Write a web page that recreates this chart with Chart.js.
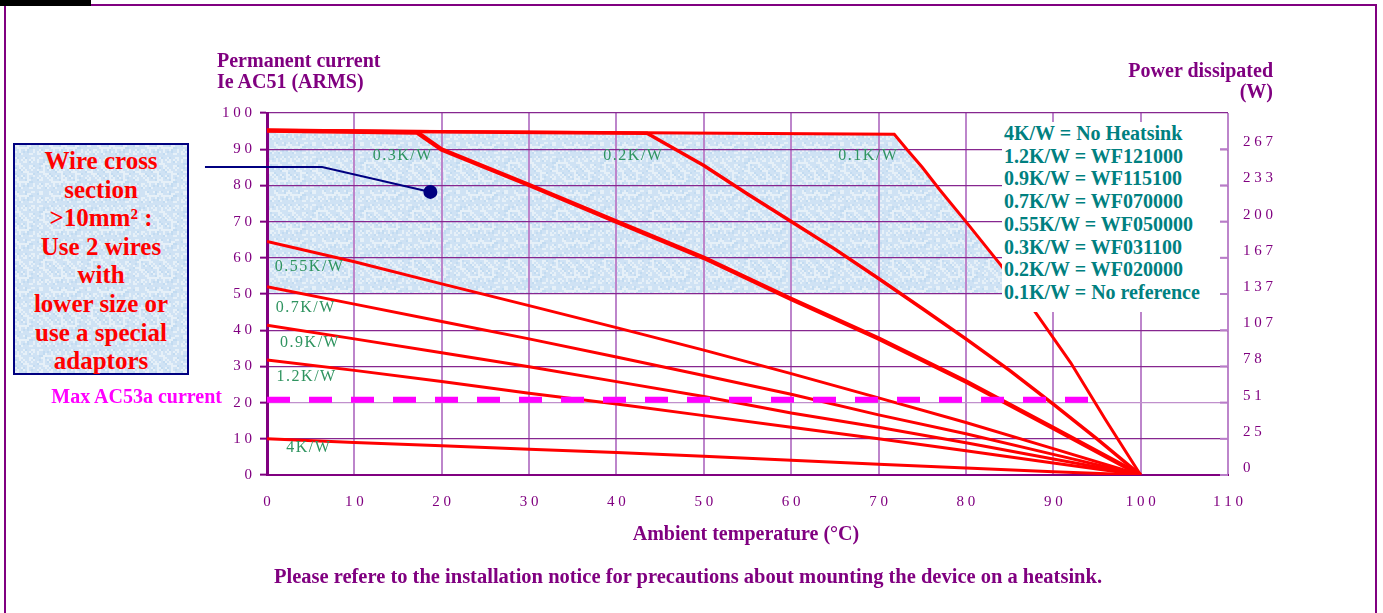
<!DOCTYPE html>
<html>
<head>
<meta charset="utf-8">
<script src="https://cdn.jsdelivr.net/npm/chart.js@4.4.0/dist/chart.umd.min.js"></script>
<style>
  body { margin: 0; background: #fff; width: 1383px; height: 613px; overflow: hidden; position: relative; font-family: "Liberation Serif", serif; }
  #c { position: absolute; left: 0; top: 0; }
  .t { position: absolute; font-weight: bold; color: #800080; font-size: 20px; line-height: 21px; white-space: nowrap; }
  #tab { position: absolute; left: 0; top: 0; width: 91px; height: 6px; background: #000; z-index: 2; }
  #frame { position: absolute; left: 4px; top: 4px; width: 1369px; height: 700px; border: 2px solid #800080; border-bottom: none; }
  #wire { position: absolute; left: 13px; top: 143px; width: 176px; height: 232px; box-sizing: border-box;
          border: 2px solid #000080; background-color: #d8e7f5; color: #ff0000; font-weight: bold; font-size: 25px;
          line-height: 28.6px; text-align: center; padding-top: 2px; }
  #legend { position: absolute; left: 1002px; top: 122px; width: 218px; height: 190px; box-sizing: border-box;
            background: #fff; color: #008080; font-weight: bold; font-size: 20px; line-height: 22.7px; padding-left: 2px; white-space: nowrap; }
</style>
</head>
<body>
<div id="frame"></div>
<div id="tab"></div>
<canvas id="c" width="1383" height="613"></canvas>

<div class="t" style="left:217px; top:50px;">Permanent current<br>Ie AC51 (ARMS)</div>
<div class="t" style="right:110px; top:60px; text-align:right;">Power dissipated<br>(W)</div>
<div class="t" style="left:546px; width:400px; top:523px; text-align:center; font-size:20px;">Ambient temperature (°C)</div>
<div class="t" style="left:188px; width:1000px; top:566px; text-align:center; font-size:20.5px;">Please refere to the installation notice for precautions about mounting the device on a heatsink.</div>
<div class="t" style="right:1161px; top:386px; color:#ff00ff;">Max AC53a current</div>
<div id="wire">Wire cross<br>section<br>&gt;10mm² :<br>Use 2 wires<br>with<br>lower size or<br>use a special<br>adaptors</div>
<div id="legend">4K/W = No Heatsink<br>1.2K/W = WF121000<br>0.9K/W = WF115100<br>0.7K/W = WF070000<br>0.55K/W = WF050000<br>0.3K/W = WF031100<br>0.2K/W = WF020000<br>0.1K/W = No reference</div>

<script>
// ambient temperature (°C) and permanent current (A)
const temps = [0, 10, 20, 30, 40, 50, 60, 70, 80, 90, 100];
const cur4 = [10, 9.0, 8.1, 7.1, 6.2, 5.2, 4.1, 3.0, 1.9, 0.9, 0];
const cur12 = [31.8, 28.9, 25.8, 22.6, 19.6, 16.4, 13.2, 10.0, 6.7, 3.3, 0];
const cur09 = [41.4, 37.6, 33.8, 29.9, 25.8, 21.7, 17.1, 13.2, 8.9, 4.4, 0];
const cur07 = [52.0, 47.2, 42.4, 37.6, 32.6, 27.5, 22.3, 16.6, 11.4, 5.7, 0];
const cur055 = [64.5, 58.9, 52.8, 46.8, 40.7, 34.5, 28.0, 21.3, 14.5, 7.3, 0];

const temps03 = [0, 17.2, 20, 30, 40, 50, 60, 70, 80, 90, 100];
const cur03 = [95.2, 94.6, 89.9, 80.1, 70.0, 60.0, 48.6, 37.7, 25.8, 13.0, 0];

const temps02 = [0, 43.5, 50, 55, 60, 65, 70, 75, 80, 85, 90, 95, 100];
const cur02 = [95.2, 94.4, 85.5, 77.6, 70.0, 62.4, 54.3, 46.0, 37.6, 28.9, 19.6, 10.0, 0];

const temps01 = [0, 71.8, 73.3, 75, 77, 80, 84, 88, 92, 96, 100];
const cur01 = [95.2, 94.1, 89.8, 85.0, 78.8, 70.0, 58.0, 44.8, 31.0, 15.2, 0];

// shaded zone: under the 0.1K/W curve, above 50 A
const shadeT = [0, 71.8, 73.3, 75, 77, 80, 84, 86.3];
const shadeI = [95.2, 94.1, 89.8, 85.0, 78.8, 70.0, 58.0, 50.0];

const ac53T = [0, 94.5];
const ac53I = [20.8, 20.8];

// right axis: power dissipated (W) at 0,10,...,90 A
const powerLabels = ['0', '25', '51', '78', '107', '137', '167', '200', '233', '267', ''];

const curveNames = ['0.3K/W', '0.2K/W', '0.1K/W', '0.55K/W', '0.7K/W', '0.9K/W', '1.2K/W', '4K/W'];
const nameT = [12.1, 38.5, 65.4, 0.9, 1.0, 1.5, 1.1, 2.2];
const nameI = [88.1, 88.1, 88.1, 57.5, 46.2, 36.4, 27.0, 7.4];

const calloutT = [-7.1, 6.3, 18.7];
const calloutI = [85.1, 85.1, 78.2];

const pts = (xs, ys) => xs.map((v, i) => ({x: v, y: ys[i]}));

function curve(label, xs, ys, w) {
    return { label: label, data: pts(xs, ys), borderColor: '#ff0000', borderWidth: w,
             pointRadius: 0, fill: false, tension: 0, order: 1 };
}

const spaced = v => String(v).split('').join(' ');

// paper-like light blue texture, fixed hash pattern
function paperTile() {
    const tile = document.createElement('canvas');
    tile.width = 48; tile.height = 48;
    const t = tile.getContext('2d');
    t.fillStyle = '#cfe2f4';
    t.fillRect(0, 0, 48, 48);
    for (let i = 0; i < 24; i++) {
        for (let j = 0; j < 24; j++) {
            const h = (i * 37 + j * 91 + i * j * 13) % 17;
            if (h < 6) { t.fillStyle = '#e6f0f8'; t.fillRect(i * 2, j * 2, 2, 2); }
            else if (h > 14) { t.fillStyle = '#c2dbf1'; t.fillRect(i * 2, j * 2, 2, 2); }
        }
    }
    return tile;
}
const tile = paperTile();
document.getElementById('wire').style.backgroundImage = 'url(' + tile.toDataURL() + ')';

const annotate = {
    id: 'annotate',
    afterDatasetsDraw(chart) {
        const {ctx, chartArea, scales: {x, y}} = chart;
        ctx.save();
        // callout to the shaded zone
        ctx.strokeStyle = '#000080';
        ctx.lineWidth = 2;
        ctx.beginPath();
        calloutT.forEach((t, i) => {
            const px = x.getPixelForValue(t), py = y.getPixelForValue(calloutI[i]);
            if (i == 0) ctx.moveTo(px, py); else ctx.lineTo(px, py);
        });
        ctx.stroke();
        const last = calloutT.length - 1;
        ctx.fillStyle = '#000080';
        ctx.beginPath();
        ctx.arc(x.getPixelForValue(calloutT[last]), y.getPixelForValue(calloutI[last]), 7, 0, 2 * Math.PI);
        ctx.fill();

        // curve names
        ctx.font = '16px "Liberation Serif"';
        ctx.fillStyle = '#2f9460';
        ctx.textBaseline = 'middle';
        ctx.textAlign = 'left';
        ctx.letterSpacing = '1.5px';
        curveNames.forEach((n, i) => {
            ctx.fillText(n, x.getPixelForValue(nameT[i]), y.getPixelForValue(nameI[i]));
        });
        ctx.letterSpacing = '0px';

        // small inner ticks of the power axis
        ctx.strokeStyle = '#b87cc8';
        ctx.lineWidth = 2;
        for (let v = 0; v <= 90; v += 10) {
            const py = y.getPixelForValue(v);
            ctx.beginPath();
            ctx.moveTo(chartArea.right - 8, py);
            ctx.lineTo(chartArea.right, py);
            ctx.stroke();
        }
        ctx.restore();
    }
};

const tickFont = { family: 'Liberation Serif', size: 15 };

const ctx = document.getElementById('c').getContext('2d');
new Chart(ctx, {
    type: 'line',
    data: {
        datasets: [
            { label: 'zone', data: pts(shadeT, shadeI), borderWidth: 0, borderColor: 'rgba(0,0,0,0)',
              backgroundColor: ctx.createPattern(tile, 'repeat'), pointRadius: 0, fill: {value: 50}, order: 5 },
            curve('4K/W', temps, cur4, 3),
            curve('1.2K/W', temps, cur12, 3),
            curve('0.9K/W', temps, cur09, 3),
            curve('0.7K/W', temps, cur07, 3),
            curve('0.55K/W', temps, cur055, 3),
            curve('0.3K/W', temps03, cur03, 4.5),
            curve('0.2K/W', temps02, cur02, 3.5),
            curve('0.1K/W', temps01, cur01, 3),
            { label: 'Max AC53a current', data: pts(ac53T, ac53I), borderColor: '#ff00ff', borderWidth: 6,
              borderDash: [23, 19], borderCapStyle: 'butt', pointRadius: 0, fill: false, order: 0 }
        ]
    },
    options: {
        responsive: false,
        animation: false,
        layout: { padding: { top: 113, left: 0, right: 0, bottom: 0 } },
        plugins: {
            legend: { display: false },
            tooltip: { enabled: false },
            filler: { drawTime: 'beforeDraw' }
        },
        scales: {
            x: {
                type: 'linear', min: 0, max: 110,
                ticks: { stepSize: 10, padding: 18, color: '#800080', callback: spaced, font: tickFont },
                grid: { color: '#bd85cb', lineWidth: 2, drawTicks: false },
                border: { color: '#800080', width: 2 },
                afterFit: s => { s.height = 138; }
            },
            y: {
                min: 0, max: 100,
                ticks: { stepSize: 10, padding: 8, color: '#800080', callback: spaced, font: tickFont },
                grid: { color: c => c.tick && c.tick.value == 20 ? '#c090cc' : '#86268f', lineWidth: 1.3,
                        tickLength: 7, tickColor: '#800080', tickWidth: 2 },
                border: { color: '#800080', width: 3 },
                afterFit: s => { s.width = 267; }
            },
            y2: {
                position: 'right', min: 0, max: 100,
                ticks: { stepSize: 10, padding: 15, labelOffset: -7, color: '#800080',
                         callback: v => spaced(powerLabels[Math.round(v / 10)]), font: tickFont },
                grid: { drawOnChartArea: false, drawTicks: false },
                border: { display: false },
                afterFit: s => { s.width = 155; }
            }
        }
    },
    plugins: [annotate]
});
</script>
</body>
</html>
